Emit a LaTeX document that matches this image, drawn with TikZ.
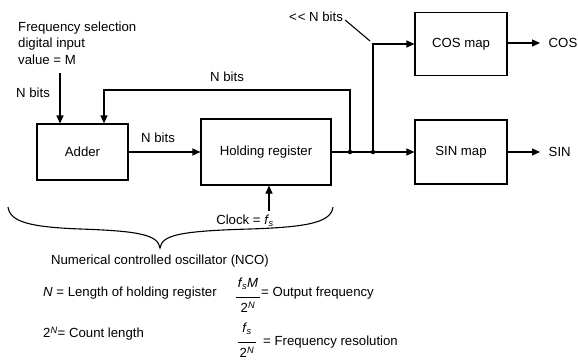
\documentclass[tikz,border=0pt]{standalone}
\usepackage{fontspec}
\setmainfont{Liberation Sans}
\usetikzlibrary{arrows.meta,calc}
\newcommand{\myfrac}[2]{\begin{tabular}{@{\hspace{2pt}}c@{\hspace{2pt}}}#1\\[4pt]\hline\rule{0pt}{16pt}#2\end{tabular}}
\newcommand{\fs}{\textit{f}\kern-0.5pt\textsubscript{\textit{s}}}
\begin{document}
\begin{tikzpicture}[x=1pt,y=-1pt,
  every node/.style={font=\fontsize{13.2}{16.5}\selectfont, inner sep=1pt},
  box/.style={draw, line width=1.1pt},
  ln/.style={line width=1.1pt},
  arr/.style={ln, -{Triangle[length=8pt,width=7pt]}},
  dot/.style={circle, fill, inner sep=0pt, minimum size=4.5pt}]
\useasboundingbox (0,0) rectangle (578,361);

% boxes
\node[box, minimum width=91pt, minimum height=56pt] (adder) at (82.5,152) {Adder};
\node[box, minimum width=130pt, minimum height=66pt] (hold) at (266,152) {Holding register};
\node[box, minimum width=92pt, minimum height=63pt] (cosmap) at (461,44) {COS map};
\node[box, minimum width=92pt, minimum height=64pt] (sinmap) at (461,152) {SIN map};

% input
\node[anchor=west, align=left] (freq) at (17,43) {Frequency selection\\digital input\\value = M};
\coordinate (inp) at (60,73);
\draw[arr] (inp) -- (inp |- adder.north);
\node (nb1) at (33,93) {N bits};

% adder -> holding
\draw[arr] (adder.east) -- (hold.west);
\node (nb2) at (158,138) {N bits};

% junction dots
\node[dot] (d1) at (350,152) {};
\node[dot] (d2) at (373,152) {};

% holding -> SIN
\draw[arr] (hold.east) -- (sinmap.west);

% feedback
\coordinate (fb) at (104,90);
\draw[arr] (d1.center) |- (fb) -- (fb |- adder.north);
\node (nb3) at (227,77) {N bits};

% to COS
\draw[arr] (d2.center) |- (cosmap.west);
\node (shl) at (316,17) {<\kern1pt< N bits};
\coordinate (ptr) at (370,41);
\draw[ln] ($(shl.east)+(1,3)$) -- (ptr);

% outputs
\node[anchor=west, inner sep=0pt] (cosout) at (548.5,43) {COS};
\node[anchor=west, inner sep=0pt] (sinout) at (548.5,152) {SIN};
\draw[arr] (cosmap.east |- cosout.west) -- ([xshift=-8.5pt]cosout.west);
\draw[arr] (sinmap.east) -- ([xshift=-8.5pt]sinout.west);

% clock
\coordinate (ck) at (269,211);
\draw[arr] (ck) -- (ck |- hold.south);
\node (clk) at (245,221) {Clock = \fs};

% brace
\draw[ln] (8,207) .. controls (10,222) and (30,227) .. (80,229)
  .. controls (140,231) and (158,235) .. (160,248)
  .. controls (162,235) and (180,231) .. (250,229)
  .. controls (310,227) and (331,222) .. (333,207);
\node (nco) at (160,261) {Numerical controlled oscillator (NCO)};

% formulas
\node[anchor=west] (l1) at (42,293) {\textit{N} = Length of holding register};
\node (fr1) at (248,297) {\myfrac{\fs\textit{M}}{2\textsuperscript{\textit{N}}}};
\node[anchor=west] (r1) at (260,293) {= Output frequency};
\node[anchor=west] (l2) at (42,334) {2\textsuperscript{\textit{N}}= Count length};
\node (fr2) at (247,342) {\myfrac{\fs}{2\textsuperscript{\textit{N}}}};
\node[anchor=west] (r2) at (262,342) {= Frequency resolution};
\end{tikzpicture}
\end{document}
